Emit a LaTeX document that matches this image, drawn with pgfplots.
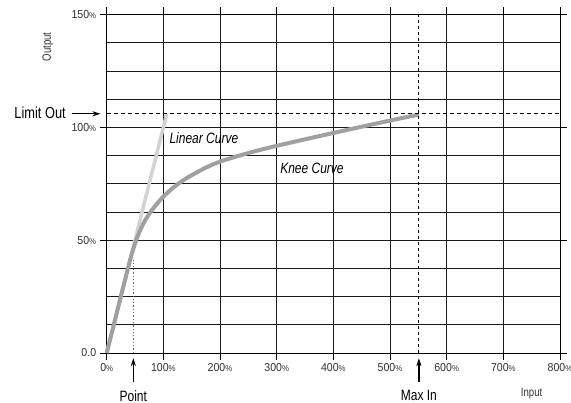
\documentclass[border=0pt]{standalone}
\usepackage{pgfplots}
\pgfplotsset{compat=1.18}
\usepackage{fontspec}
\setmainfont{Liberation Sans}[FakeStretch=0.8]
\newfontfamily\tickfont{Liberation Sans}[FakeStretch=0.92]
\usetikzlibrary{arrows.meta}
\definecolor{kneec}{HTML}{A0A0A0}
\definecolor{linc}{HTML}{D3D3D3}
\newcommand{\pc}{{\fontsize{8.5}{10}\selectfont\%}}
\begin{document}
\begin{tikzpicture}
\begin{axis}[
  width=453.3pt, height=338.5pt, scale only axis,
  xmin=0, xmax=800, ymin=0, ymax=150,
  xtick={0,100,...,800},
  xticklabels={0\pc,100\pc,200\pc,300\pc,400\pc,500\pc,600\pc,700\pc,800\pc},
  ytick={0,50,100,150},
  yticklabels={0.0,50\pc,100\pc,150\pc},
  minor y tick num=3,
  xmajorgrids, ymajorgrids, yminorgrids,
  grid style={black!90, line width=0.8pt},
  minor grid style={black!90, line width=0.8pt},
  axis line style={black, line width=0.9pt},
  tick align=outside,
  major tick length=7pt, minor tick length=0pt,
  tick style={black, line width=0.9pt},
  ticklabel style={font=\tickfont\fontsize{11.5}{13}\selectfont, color=black!80},
  /pgf/number format/assume math mode=true,
  clip=false,
]
\addplot[color=linc, line width=3.5pt] coordinates {(0,0) (106,106)};
\addplot[color=kneec, line width=4pt, smooth, tension=0.5] coordinates {
  (0,0) (35,35) (45,44.5) (55,52) (65,57.5) (76,62) (90,66.5) (100,69.3) (120,73.8) (140,77.3) (170,81.5) (200,84.8) (250,88.6) (300,91.8) (400,97.5) (500,103) (551,105.6)};
% limit out
\draw[dashed, dash pattern=on 4pt off 3pt, line width=0.7pt] (axis cs:0,106) -- (axis cs:800,106);
\draw[-{Stealth[length=8pt,width=5pt]}, line width=1.4pt] (axis cs:-61,106) -- (axis cs:-11,106);
\node[anchor=east, font=\fontsize{16}{18}\selectfont, inner sep=0pt] at (axis cs:-72,106.5) {Limit Out};
% point
\draw[dotted, line width=1.3pt, color=black!60] (axis cs:47,0) -- (axis cs:47,41);
\draw[-{Stealth[length=8pt,width=5pt]}, line width=1.4pt] (axis cs:47,-12.7) -- (axis cs:47,-2.3);
\node[font=\fontsize{15}{17}\selectfont, inner sep=0pt] at (axis cs:47,-19) {Point};
% max in
\draw[dashed, dash pattern=on 3pt off 3pt, line width=0.8pt] (axis cs:551,0) -- (axis cs:551,150);
\draw[-{Stealth[length=8pt,width=5pt]}, line width=1.4pt] (axis cs:551,-12.7) -- (axis cs:551,-2.3);
\node[font=\fontsize{15}{17}\selectfont, inner sep=0pt] at (axis cs:551,-19) {Max In};
% axis labels
\node[font=\fontsize{12}{14}\selectfont, color=black!80, inner sep=0pt] at (axis cs:750,-18.2) {Input};
\node[font=\fontsize{12}{14}\selectfont, color=black!80, inner sep=0pt, rotate=90] at (axis cs:-103.5,135.6) {Output};
% curve labels
\node[anchor=west, font=\fontsize{15}{17}\selectfont\itshape, inner sep=0pt] at (axis cs:110.5,95.1) {Linear Curve};
\node[anchor=west, font=\fontsize{15}{17}\selectfont\itshape, inner sep=0pt] at (axis cs:306,81.8) {Knee Curve};
\coordinate (bl) at (rel axis cs:-0.2354,-0.1477);
\coordinate (tr) at (rel axis cs:1.0243,1.0428);
\end{axis}
\pgfresetboundingbox
\path[use as bounding box] (bl) rectangle (tr);
\end{tikzpicture}
\end{document}
